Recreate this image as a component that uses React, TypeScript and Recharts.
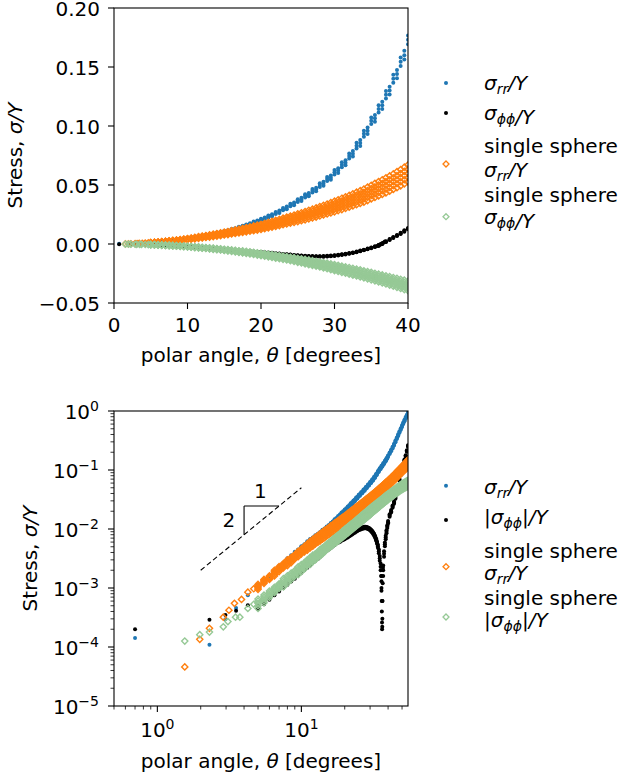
import React from 'react';
import { ScatterChart, Scatter, XAxis, YAxis, ReferenceLine, ReferenceDot } from 'recharts';

const FONT = '"DejaVu Sans", Verdana, sans-serif';
const BLUE = '#1f77b4';
const BLACK = '#000000';
const ORANGE = '#ff7f0e';
const GREEN = '#96c996';

// polar angle of the dense part of the mesh, degrees
const thetaGrid = [
  5, 5.5, 6, 6.5, 7, 7.5, 8, 8.5, 9, 9.5,
  10, 10.5, 11, 11.5, 12, 12.5, 13, 13.5, 14, 14.5,
  15, 15.5, 16, 16.5, 17, 17.5, 18, 18.5, 19, 19.5,
  20, 20.5, 21, 21.5, 22, 22.5, 23, 23.5, 24, 24.5,
  25, 25.5, 26, 26.5, 27, 27.5, 28, 28.5, 29, 29.5,
  30, 30.5, 31, 31.5, 32, 32.5, 33, 33.5, 34, 34.5,
  35, 35.5, 36, 36.5, 37, 37.5, 38, 38.5, 39, 39.5,
  40, 41, 42, 43, 44, 45, 46, 47, 48, 49, 50, 51, 52, 53, 54, 55,
];

// sigma_rr / Y: centre of the cloud and its half width
const rrGrid = [
  0.0011, 0.0013, 0.0016, 0.0019, 0.0023, 0.0026, 0.0031, 0.0035, 0.0040, 0.0044,
  0.0050, 0.0054, 0.0060, 0.0066, 0.0070, 0.0076, 0.0081, 0.0086, 0.0094, 0.0099,
  0.0107, 0.0113, 0.0123, 0.0130, 0.0141, 0.0149, 0.0161, 0.0170, 0.0184, 0.0192,
  0.0207, 0.0216, 0.0233, 0.0243, 0.0263, 0.0273, 0.0295, 0.0306, 0.0330, 0.0340,
  0.0368, 0.0378, 0.0408, 0.0418, 0.0451, 0.0462, 0.0499, 0.0510, 0.0551, 0.0562,
  0.0608, 0.0622, 0.0672, 0.0688, 0.0746, 0.0765, 0.0833, 0.0856, 0.0934, 0.0960,
  0.1045, 0.1065, 0.1145, 0.1175, 0.1265, 0.1300, 0.1400, 0.1440, 0.1545, 0.1600,
  0.1730, 0.192, 0.214, 0.240, 0.270, 0.305, 0.345, 0.390, 0.440, 0.495, 0.555, 0.620, 0.690, 0.765, 0.840, 0.920,
];
const rrSpread = [
  0.00005, 0.00005, 0.00006, 0.00007, 0.00008, 0.00009, 0.0001, 0.0001, 0.0001, 0.0001,
  0.0001, 0.0001, 0.0002, 0.0002, 0.0002, 0.0002, 0.0002, 0.0003, 0.0003, 0.0003,
  0.0003, 0.0004, 0.0004, 0.0004, 0.0005, 0.0005, 0.0005, 0.0006, 0.0006, 0.0007,
  0.0007, 0.0008, 0.0008, 0.0009, 0.0009, 0.0010, 0.0010, 0.0011, 0.0011, 0.0012,
  0.0012, 0.0013, 0.0013, 0.0014, 0.0015, 0.0015, 0.0016, 0.0017, 0.0017, 0.0018,
  0.0019, 0.0020, 0.0021, 0.0021, 0.0022, 0.0023, 0.0024, 0.0025, 0.0026, 0.0027,
  0.0028, 0.0029, 0.0030, 0.0031, 0.0032, 0.0033, 0.0034, 0.0035, 0.0036, 0.0037,
  0.0038, 0.006, 0.007, 0.008, 0.009, 0.010, 0.011, 0.012, 0.014, 0.016, 0.018, 0.020, 0.022, 0.024, 0.026, 0.028,
];
const rrNearTheta = [0.7, 2.3, 2.97, 3.52, 4.25];
const rrNearValue = [1.42e-4, 1.09e-4, 2.95e-4, 4.6e-4, 7.5e-4];

// sigma_phiphi / Y (signed)
const phiGrid = [
  -0.00047, -0.00056, -0.00067, -0.00079, -0.00092, -0.00105, -0.0012, -0.00135, -0.0015, -0.0017,
  -0.0019, -0.0021, -0.0023, -0.0025, -0.0028, -0.0030, -0.0032, -0.0035, -0.0038, -0.0041,
  -0.0044, -0.0046, -0.0049, -0.0052, -0.0055, -0.0058, -0.0060, -0.0062, -0.0065, -0.0067,
  -0.0069, -0.0072, -0.0074, -0.0077, -0.0080, -0.0083, -0.0086, -0.0089, -0.0092, -0.0095,
  -0.0098, -0.0100, -0.0102, -0.0104, -0.0105, -0.0106, -0.0106, -0.0105, -0.0103, -0.0101,
  -0.0098, -0.0094, -0.0090, -0.0085, -0.0080, -0.0074, -0.0067, -0.0059, -0.0051, -0.0042,
  -0.0032, -0.0023, -0.0013, 0.0003, 0.0020, 0.0038, 0.0055, 0.0072, 0.0090, 0.0110,
  0.0130, 0.017, 0.020, 0.024, 0.028, 0.034, 0.042, 0.053, 0.068, 0.085, 0.103, 0.123, 0.146, 0.172, 0.210, 0.255,
];
const phiSpread = [
  0.00003, 0.00003, 0.00004, 0.00004, 0.00005, 0.00005, 0.00006, 0.00006, 0.00007, 0.00007,
  0.00008, 0.00008, 0.00009, 0.00009, 0.0001, 0.0001, 0.0001, 0.0001, 0.00011, 0.00011,
  0.00012, 0.00012, 0.00013, 0.00013, 0.00014, 0.00014, 0.00015, 0.00015, 0.00016, 0.00016,
  0.00017, 0.00018, 0.00019, 0.0002, 0.00021, 0.00022, 0.00023, 0.00024, 0.00025, 0.00026,
  0.00027, 0.00028, 0.0003, 0.0003, 0.0003, 0.0003, 0.0003, 0.0003, 0.0003, 0.0003,
  0.0003, 0.0003, 0.0003, 0.0003, 0.0003, 0.0003, 0.0003, 0.0003, 0.0003, 0.0003,
  0.0003, 0.0003, 0.0003, 0.0003, 0.0004, 0.0004, 0.0004, 0.0005, 0.0005, 0.0006,
  0.0006, 0.0008, 0.0009, 0.001, 0.0012, 0.0014, 0.0017, 0.002, 0.0025, 0.003, 0.0035, 0.004, 0.0047, 0.0055, 0.0065, 0.0075,
];
// near the pole, and the points around the sign change at ~36 deg
const phiExtraTheta = [0.7, 2.3, 2.97, 3.52, 4.25, 35.8, 36.0, 36.1, 36.2, 36.3, 36.35, 36.45, 36.55, 36.7, 36.85];
const phiExtraValue = [
  -2.0e-4, -2.9e-4, -3.5e-4, -4.1e-4, -5.1e-4,
  -0.0016, -0.0009, -0.0006, -0.0004, -0.00026, -0.0002, 0.00022, 0.0006, 0.0012, 0.0022,
];

// single sphere, sigma_rr / Y: centre of the band and its half width
const ssRrMid = [
  0.00105, 0.0013, 0.0015, 0.0018, 0.0021, 0.0024, 0.0027, 0.0030, 0.0034, 0.0038,
  0.0042, 0.0046, 0.0050, 0.0055, 0.0059, 0.0064, 0.0068, 0.0073, 0.0078, 0.0083,
  0.0088, 0.0093, 0.0099, 0.0104, 0.0110, 0.0115, 0.0121, 0.0127, 0.0133, 0.0139,
  0.0145, 0.0152, 0.0160, 0.0167, 0.0175, 0.0183, 0.0191, 0.0199, 0.0207, 0.0215,
  0.0223, 0.0231, 0.0240, 0.0249, 0.0258, 0.0267, 0.0277, 0.0287, 0.0297, 0.0307,
  0.0318, 0.0329, 0.0340, 0.0351, 0.0362, 0.0374, 0.0386, 0.0398, 0.0410, 0.0425,
  0.0440, 0.0454, 0.0468, 0.0482, 0.0497, 0.0512, 0.0528, 0.0545, 0.0562, 0.0580,
  0.0598, 0.063, 0.067, 0.071, 0.075, 0.079, 0.084, 0.088, 0.093, 0.098, 0.103, 0.108, 0.113, 0.119, 0.125, 0.131,
];
const ssRrSpread = [
  0.0001, 0.0001, 0.0001, 0.0002, 0.0002, 0.0002, 0.0003, 0.0003, 0.0003, 0.0004,
  0.0004, 0.0005, 0.0006, 0.0007, 0.0008, 0.0008, 0.0009, 0.0010, 0.0011, 0.0012,
  0.0012, 0.0013, 0.0014, 0.0015, 0.0016, 0.0017, 0.0018, 0.0019, 0.0020, 0.0021,
  0.0022, 0.0023, 0.0024, 0.0025, 0.0026, 0.0027, 0.0028, 0.0029, 0.0030, 0.0031,
  0.0033, 0.0034, 0.0035, 0.0036, 0.0037, 0.0039, 0.0040, 0.0041, 0.0042, 0.0044,
  0.0045, 0.0046, 0.0048, 0.0049, 0.0050, 0.0052, 0.0053, 0.0054, 0.0056, 0.0057,
  0.0058, 0.0060, 0.0061, 0.0062, 0.0064, 0.0065, 0.0066, 0.0068, 0.0069, 0.0071,
  0.0072, 0.0076, 0.0080, 0.0085, 0.0090, 0.0095, 0.0101, 0.0107, 0.0113, 0.0120, 0.0127, 0.0135, 0.0143, 0.0152, 0.0162, 0.0172,
];
const ssRrNearTheta = [1.55, 1.97, 2.3, 2.87, 3.14, 3.43, 3.84, 4.25, 4.67];
const ssRrNearValue = [4.6e-5, 1.35e-4, 2.07e-4, 3.2e-4, 4.2e-4, 5.5e-4, 6.4e-4, 8.5e-4, 9.7e-4];

// single sphere, sigma_phiphi / Y (signed)
const ssPhiMid = [
  -0.00055, -0.00066, -0.00079, -0.00093, -0.00108, -0.00124, -0.00141, -0.00159, -0.00178, -0.00199,
  -0.0022, -0.0024, -0.0027, -0.0029, -0.0032, -0.0034, -0.0037, -0.0040, -0.0043, -0.0046,
  -0.0050, -0.0053, -0.0056, -0.0060, -0.0064, -0.0067, -0.0071, -0.0075, -0.0079, -0.0084,
  -0.0088, -0.0093, -0.0097, -0.0102, -0.0107, -0.0111, -0.0116, -0.0121, -0.0127, -0.0132,
  -0.0138, -0.0143, -0.0149, -0.0155, -0.0161, -0.0167, -0.0173, -0.0180, -0.0186, -0.0193,
  -0.0200, -0.0207, -0.0214, -0.0221, -0.0228, -0.0235, -0.0242, -0.0249, -0.0257, -0.0264,
  -0.0272, -0.0280, -0.0288, -0.0296, -0.0304, -0.0312, -0.0321, -0.0329, -0.0338, -0.0346,
  -0.0355, -0.0372, -0.0389, -0.0406, -0.0423, -0.0440, -0.0457, -0.0474, -0.0491, -0.0508, -0.0525, -0.0540, -0.0555, -0.0570, -0.0585, -0.0600,
];
const ssPhiSpread = [
  0.0001, 0.0001, 0.0001, 0.0001, 0.0001, 0.0002, 0.0002, 0.0002, 0.0002, 0.0003,
  0.0003, 0.0003, 0.0003, 0.0004, 0.0004, 0.0004, 0.0004, 0.0005, 0.0005, 0.0005,
  0.0005, 0.0006, 0.0006, 0.0007, 0.0007, 0.0008, 0.0008, 0.0009, 0.0009, 0.0010,
  0.0011, 0.0011, 0.0012, 0.0012, 0.0013, 0.0013, 0.0014, 0.0014, 0.0015, 0.0016,
  0.0017, 0.0018, 0.0019, 0.0020, 0.0021, 0.0021, 0.0022, 0.0023, 0.0024, 0.0025,
  0.0026, 0.0026, 0.0027, 0.0027, 0.0028, 0.0029, 0.0029, 0.0030, 0.0030, 0.0031,
  0.0032, 0.0032, 0.0033, 0.0034, 0.0035, 0.0036, 0.0037, 0.0038, 0.0039, 0.0040,
  0.0041, 0.0043, 0.0045, 0.0047, 0.0049, 0.0051, 0.0053, 0.0055, 0.0057, 0.0059, 0.0061, 0.0063, 0.0065, 0.0067, 0.0069, 0.0071,
];
const ssPhiNearTheta = [1.55, 1.97, 2.3, 2.87, 3.09, 3.49, 3.74, 4.25, 4.67];
const ssPhiNearValue = [-1.26e-4, -1.62e-4, -1.79e-4, -2.2e-4, -2.7e-4, -3.2e-4, -3.2e-4, -4.5e-4, -5.3e-4];

// slope-2 guide on the log plot
const guideTheta = [2, 10];
const guideValue = [0.002, 0.05];
const triangleTheta = [4, 7];
const triangleValue = [0.008, 0.0245];

// axis ticks
const linXTicks = [0, 10, 20, 30, 40];
const linYTicks = [-0.05, 0, 0.05, 0.1, 0.15, 0.2];
const logXMajor = [1, 10];
const logXMinor = [0.5, 0.6, 0.7, 0.8, 0.9, 2, 3, 4, 5, 6, 7, 8, 9, 20, 30, 40, 50];
const logYMajor = [1e-5, 1e-4, 1e-3, 1e-2, 1e-1, 1];
const logYMinor = logYMajor.slice(0, 5).flatMap((d) => [2, 3, 4, 5, 6, 7, 8, 9].map((m) => m * d));

type Pt = { x: number; y: number };
const zipPts = (xs: number[], ys: number[]): Pt[] => xs.map((x, i) => ({ x, y: ys[i] }));
// each mesh angle carries a spread of values: draw the cloud across its width
const cloudPts = (mid: number[], spread: number[], steps: number[]): Pt[] =>
  thetaGrid.flatMap((x, i) => steps.map((k) => ({ x, y: mid[i] + k * spread[i] })));

const THIN = [-1, 0, 1];
const WIDE = [-1, -0.5, 0, 0.5, 1];

const rrPts = [...zipPts(rrNearTheta, rrNearValue), ...cloudPts(rrGrid, rrSpread, THIN)];
const phiPts = [...zipPts(phiExtraTheta, phiExtraValue), ...cloudPts(phiGrid, phiSpread, THIN)];
const ssRrPts = [...zipPts(ssRrNearTheta, ssRrNearValue), ...cloudPts(ssRrMid, ssRrSpread, WIDE)];
const ssPhiPts = [...zipPts(ssPhiNearTheta, ssPhiNearValue), ...cloudPts(ssPhiMid, ssPhiSpread, WIDE)];

const upTo40 = (pts: Pt[]) => pts.filter((p) => p.x <= 40.5);
const absPts = (pts: Pt[]) => pts.map((p) => ({ x: p.x, y: Math.abs(p.y) })).filter((p) => p.y > 0);

const PLOT_LEFT = 114;

const dot = (color: string) => (p: any) => <circle cx={p.cx} cy={p.cy} r={2} fill={color} />;
const diamond = (color: string) => (p: any) => {
  const r = 3.1;
  return (
    <polygon
      points={`${p.cx},${p.cy - r} ${p.cx + r},${p.cy} ${p.cx},${p.cy + r} ${p.cx - r},${p.cy}`}
      fill="none"
      stroke={color}
      strokeWidth={1.4}
    />
  );
};

const fmtLin = (v: number) => v.toFixed(2).replace('-', '\u2212');
const isMajor = (v: number, majors: number[]) => majors.some((m) => Math.abs(Math.log10(v) - Math.log10(m)) < 1e-6);
const expText = (v: number) => String(Math.round(Math.log10(v))).replace('-', '\u2212');

const linXTick = (bottom: number) => (p: any) => (
  <g>
    <line x1={p.x} x2={p.x} y1={bottom} y2={bottom + 6} stroke="#000" strokeWidth={1.1} />
    <text x={p.x} y={bottom + 29} textAnchor="middle" fontSize={20} fontFamily={FONT} fill="#000">
      {p.payload.value}
    </text>
  </g>
);

const LinYTick = (p: any) => (
  <g>
    <line x1={PLOT_LEFT - 6} x2={PLOT_LEFT} y1={p.y} y2={p.y} stroke="#000" strokeWidth={1.1} />
    <text x={PLOT_LEFT - 14} y={p.y + 8} textAnchor="end" fontSize={20} fontFamily={FONT} fill="#000">
      {fmtLin(p.payload.value)}
    </text>
  </g>
);

const logXTick = (bottom: number) => (p: any) => {
  const v = p.payload.value;
  const major = isMajor(v, logXMajor);
  return (
    <g>
      <line x1={p.x} x2={p.x} y1={bottom} y2={bottom + (major ? 6 : 3.5)} stroke="#000" strokeWidth={major ? 1.1 : 0.8} />
      {major && (
        <text x={p.x} y={bottom + 31} textAnchor="middle" fontSize={20} fontFamily={FONT} fill="#000">
          10<tspan fontSize={14} dy={-8}>{expText(v)}</tspan>
        </text>
      )}
    </g>
  );
};

const LogYTick = (p: any) => {
  const v = p.payload.value;
  const major = isMajor(v, logYMajor);
  return (
    <g>
      <line x1={PLOT_LEFT - (major ? 6 : 3.5)} x2={PLOT_LEFT} y1={p.y} y2={p.y} stroke="#000" strokeWidth={major ? 1.1 : 0.8} />
      {major && (
        <text x={PLOT_LEFT - 15} y={p.y + 8} textAnchor="end" fontSize={20} fontFamily={FONT} fill="#000">
          10<tspan fontSize={14} dy={-8}>{expText(v)}</tspan>
        </text>
      )}
    </g>
  );
};

function LinearPanel() {
  return (
    <ScatterChart width={420} height={380} margin={{ top: 8, right: 12, bottom: 0, left: 0 }}>
      <XAxis
        type="number"
        dataKey="x"
        domain={[0, 40]}
        ticks={linXTicks}
        interval={0}
        allowDataOverflow
        height={77}
        tickLine={false}
        axisLine={false}
        tick={linXTick(303)}
      />
      <YAxis
        type="number"
        dataKey="y"
        domain={[-0.05, 0.2]}
        ticks={linYTicks}
        interval={0}
        allowDataOverflow
        width={114}
        tickLine={false}
        axisLine={false}
        tick={LinYTick}
      />
      <Scatter data={upTo40(rrPts)} shape={dot(BLUE)} isAnimationActive={false} />
      <Scatter data={upTo40(phiPts)} shape={dot(BLACK)} isAnimationActive={false} />
      <Scatter data={upTo40(ssRrPts)} shape={diamond(ORANGE)} isAnimationActive={false} />
      <Scatter data={upTo40(ssPhiPts)} shape={diamond(GREEN)} isAnimationActive={false} />
    </ScatterChart>
  );
}

function LogPanel() {
  return (
    <ScatterChart width={420} height={398} margin={{ top: 28, right: 12, bottom: 0, left: 0 }}>
      <XAxis
        type="number"
        dataKey="x"
        scale="log"
        domain={[0.5, 55]}
        ticks={[...logXMinor, ...logXMajor].sort((a, b) => a - b)}
        interval={0}
        allowDataOverflow
        height={75}
        tickLine={false}
        axisLine={false}
        tick={logXTick(323)}
      />
      <YAxis
        type="number"
        dataKey="y"
        scale="log"
        domain={[1e-5, 1]}
        ticks={[...logYMinor, ...logYMajor].sort((a, b) => a - b)}
        interval={0}
        allowDataOverflow
        width={114}
        tickLine={false}
        axisLine={false}
        tick={LogYTick}
      />
      <Scatter data={absPts(rrPts)} shape={dot(BLUE)} isAnimationActive={false} />
      <Scatter data={absPts(phiPts)} shape={dot(BLACK)} isAnimationActive={false} />
      <Scatter data={absPts(ssRrPts)} shape={diamond(ORANGE)} isAnimationActive={false} />
      <Scatter data={absPts(ssPhiPts)} shape={diamond(GREEN)} isAnimationActive={false} />
      <ReferenceLine
        segment={[{ x: guideTheta[0], y: guideValue[0] }, { x: guideTheta[1], y: guideValue[1] }]}
        stroke="#000"
        strokeWidth={1.1}
        strokeDasharray="5 3"
        ifOverflow="visible"
      />
      <ReferenceLine
        segment={[{ x: triangleTheta[0], y: triangleValue[0] }, { x: triangleTheta[0], y: triangleValue[1] }]}
        stroke="#000"
        strokeWidth={1.1}
        ifOverflow="visible"
      />
      <ReferenceLine
        segment={[{ x: triangleTheta[0], y: triangleValue[1] }, { x: triangleTheta[1], y: triangleValue[1] }]}
        stroke="#000"
        strokeWidth={1.1}
        ifOverflow="visible"
      />
      <ReferenceDot x={5.2} y={0.045} r={0} fill="none" stroke="none" label={{ value: '1', position: 'center', fontSize: 20, fill: '#000', fontFamily: FONT }} />
      <ReferenceDot x={3.14} y={0.014} r={0} fill="none" stroke="none" label={{ value: '2', position: 'center', fontSize: 20, fill: '#000', fontFamily: FONT }} />
    </ScatterChart>
  );
}

const SigmaRR = ({ x, y }: { x: number; y: number }) => (
  <text x={x} y={y} fontStyle="italic">
    σ<tspan fontSize={14} dy={4}>rr</tspan>
    <tspan dy={-4}>/Y</tspan>
  </text>
);

const SigmaPhi = ({ x, y, abs }: { x: number; y: number; abs?: boolean }) => (
  <text x={x} y={y}>
    {abs ? '|' : ''}
    <tspan fontStyle="italic">σ</tspan>
    <tspan fontStyle="italic" fontSize={14} dy={4}>ϕϕ</tspan>
    <tspan dy={-4}>{abs ? '|' : ''}</tspan>
    <tspan fontStyle="italic">/Y</tspan>
  </text>
);

const LegendDot = ({ y, color }: { y: number; color: string }) => <circle cx={446} cy={y} r={2} fill={color} />;
const LegendDiamond = ({ y, color }: { y: number; color: string }) => (
  <polygon points={`446,${y - 3} 449,${y} 446,${y + 3} 443,${y}`} fill="none" stroke={color} strokeWidth={1.3} />
);

export default function App() {
  return (
    <div style={{ position: 'absolute', left: 0, top: 0, width: 623, height: 781, background: '#fff', fontFamily: FONT }}>
      <div style={{ position: 'absolute', left: 0, top: 0 }}>
        <LinearPanel />
      </div>
      <div style={{ position: 'absolute', left: 0, top: 383 }}>
        <LogPanel />
      </div>
      <svg
        width={623}
        height={781}
        style={{ position: 'absolute', left: 0, top: 0, pointerEvents: 'none' }}
        fontFamily={FONT}
        fontSize={20}
        fill="#000"
      >
        <rect x={114} y={8} width={294} height={295} fill="none" stroke="#000" strokeWidth={1.1} />
        <rect x={114} y={411} width={294} height={295} fill="none" stroke="#000" strokeWidth={1.1} />

        <text x={261} y={362} textAnchor="middle">
          polar angle, <tspan fontStyle="italic">θ</tspan> [degrees]
        </text>
        <text x={261} y={768} textAnchor="middle">
          polar angle, <tspan fontStyle="italic">θ</tspan> [degrees]
        </text>
        <text transform="translate(22,155.5) rotate(-90)" textAnchor="middle">
          Stress, <tspan fontStyle="italic">σ/Y</tspan>
        </text>
        <text transform="translate(37,558.5) rotate(-90)" textAnchor="middle">
          Stress, <tspan fontStyle="italic">σ/Y</tspan>
        </text>

        <LegendDot y={83} color={BLUE} />
        <SigmaRR x={484} y={90} />
        <LegendDot y={113} color={BLACK} />
        <SigmaPhi x={484} y={120} />
        <LegendDiamond y={164} color={ORANGE} />
        <text x={484} y={153}>single sphere</text>
        <SigmaRR x={484} y={177} />
        <LegendDiamond y={216.7} color={GREEN} />
        <text x={484} y={202}>single sphere</text>
        <SigmaPhi x={484} y={224} />

        <LegendDot y={485.7} color={BLUE} />
        <SigmaRR x={484} y={494} />
        <LegendDot y={520} color={BLACK} />
        <SigmaPhi x={484} y={524} abs />
        <LegendDiamond y={566.7} color={ORANGE} />
        <text x={484} y={558}>single sphere</text>
        <SigmaRR x={484} y={580} />
        <LegendDiamond y={617} color={GREEN} />
        <text x={484} y={605}>single sphere</text>
        <SigmaPhi x={484} y={627} abs />
      </svg>
    </div>
  );
}
